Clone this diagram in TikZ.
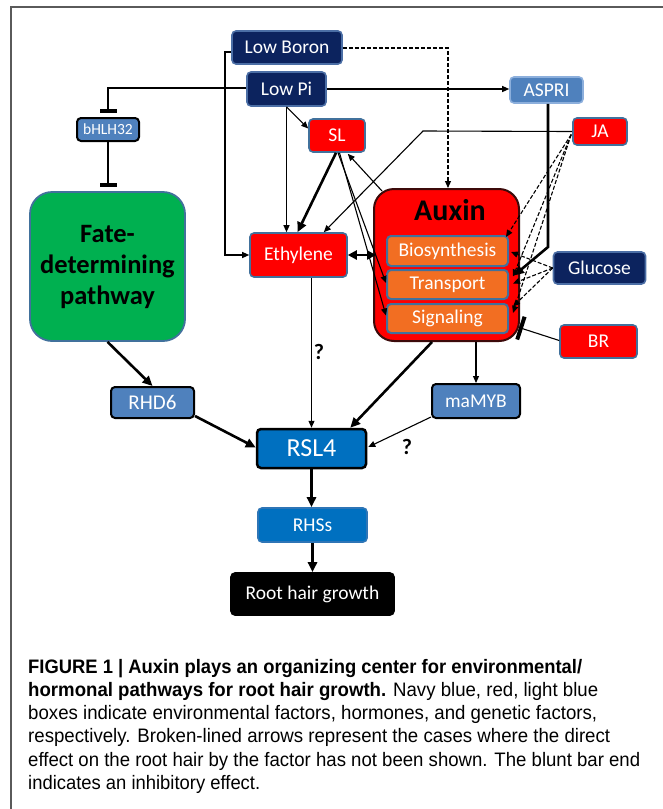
\documentclass[tikz,border=0pt]{standalone}
\usepackage{fontspec}
\usepackage{graphicx}
\setmainfont{Liberation Sans}
\newfontfamily\calfont{Carlito}
\usetikzlibrary{arrows.meta,calc}
\definecolor{navy}{RGB}{12,35,94}
\definecolor{navyedge}{RGB}{75,110,165}
\definecolor{hred}{RGB}{255,0,0}
\definecolor{hedge}{RGB}{65,113,156}
\definecolor{lblue}{RGB}{79,129,189}
\definecolor{lbedge}{RGB}{140,175,220}
\definecolor{orng}{RGB}{242,110,34}
\definecolor{fgreen}{RGB}{0,176,80}
\definecolor{rblue}{RGB}{0,112,192}
\definecolor{rhsedge}{RGB}{46,117,182}
\definecolor{framegray}{RGB}{90,90,90}
\definecolor{auxedge}{RGB}{60,10,10}
\tikzset{
 base/.style={rounded corners=4pt, inner sep=0pt, align=center, text=white, font=\calfont\fontsize{19.5}{23}\selectfont, line width=1.6pt},
 envbox/.style={base, fill=navy, draw=navyedge},
 hormbox/.style={base, fill=hred, draw=hedge},
 genbox/.style={base, fill=lblue, draw=black, line width=2pt},
 subbox/.style={base, fill=orng, draw=hedge, line width=2pt},
 thinline/.style={line width=1.1pt, draw=black},
 thinarrow/.style={thinline, -{Triangle[length=7pt,width=6pt]}},
 thickarrow/.style={line width=2.6pt, -{Triangle[length=10pt,width=9pt]}},
 dasharrow/.style={thinarrow, dash pattern=on 4pt off 2pt},
 bluntend/.style={thinline, -{Bar[width=#1,line width=4pt]}},
 qmark/.style={font=\calfont\bfseries\fontsize{22}{26}\selectfont, inner sep=0pt},
 capline/.style={anchor=base west, inner sep=0pt, font=\fontsize{19.5}{23.2}\selectfont},
}
\begin{document}
\begin{tikzpicture}[x=1pt,y=-1pt]
\useasboundingbox (0,0) rectangle (663,809);
\fill[white] (0,0) rectangle (663,809);
\draw[framegray, line width=1.2pt] (11,809) -- (11,7) -- (663,7);

% nodes
\node[envbox, minimum width=110pt, minimum height=33pt] (lowboron) at (287,47.5) {Low Boron};
\node[envbox, minimum width=79pt, minimum height=34pt] (lowpi) at (286.5,89) {Low Pi};
\node[base, fill=lblue, draw=lbedge, minimum width=73pt, minimum height=26pt] (aspri) at (546.5,90) {ASPRI};
\node[genbox, minimum width=62pt, minimum height=23pt, font=\calfont\fontsize{15.5}{18}\selectfont] (bhlh) at (108,129.5) {bHLH32};
\node[hormbox, minimum width=56pt, minimum height=33pt] (sl) at (337,135.5) {SL};
\node[hormbox, minimum width=54pt, minimum height=27pt] (ja) at (600,131.5) {JA};
\node[hormbox, minimum width=97pt, minimum height=44pt] (ethylene) at (298.5,255) {Ethylene};
\node[rounded corners=20pt, fill=hred, draw=auxedge, line width=2pt, minimum width=145pt, minimum height=152pt, inner sep=0pt] (auxin) at (446.5,265) {};
\node[font=\calfont\bfseries\fontsize{30}{36}\selectfont, inner sep=0pt] (auxinlabel) at (450,210) {Auxin};
\node[subbox, minimum width=121pt, minimum height=30pt] (biosynthesis) at (447.5,251) {Biosynthesis};
\node[subbox, minimum width=121pt, minimum height=29pt] (transport) at (447.5,284.5) {Transport};
\node[subbox, minimum width=121pt, minimum height=29pt] (signaling) at (447.5,318.5) {Signaling};
\node[envbox, minimum width=92pt, minimum height=32pt] (glucose) at (599.5,268) {Glucose};
\node[hormbox, minimum width=77pt, minimum height=33pt] (br) at (598.5,341.5) {BR};
\node[base, fill=fgreen, draw=hedge, line width=1.8pt, rounded corners=22pt, text=black, minimum width=155pt, minimum height=149pt, font=\calfont\bfseries\fontsize{26.5}{31}\selectfont] (fate) at (107.5,266.5) {Fate-\\determining\\pathway};
\node[genbox, minimum width=83pt, minimum height=31pt, font=\calfont\fontsize{21}{25}\selectfont] (rhd6) at (152.5,402.5) {RHD6};
\node[genbox, minimum width=88pt, minimum height=34pt] (mamyb) at (476,401) {maMYB};
\node[base, fill=rblue, draw=black, line width=2.5pt, minimum width=109pt, minimum height=39pt, font=\calfont\fontsize{26}{30}\selectfont] (rsl4) at (311.5,448.5) {RSL4};
\node[base, fill=rblue, draw=rhsedge, minimum width=109pt, minimum height=34pt] (rhss) at (312.5,525) {RHSs};
\node[base, fill=black, draw=black, minimum width=163pt, minimum height=42pt] (root) at (312.5,594) {Root hair growth};

% Low Boron
\coordinate (lbturn) at (225,52);
\draw[thinarrow] ($(lowboron.west)+(0,4.5)$) -- (lbturn) |- (ethylene.west);
\coordinate (lbdash) at (448,48);
\draw[dasharrow] ($(lowboron.east)+(0,0.5)$) -- (lbdash) -- (lbdash |- auxin.north);

% Low Pi
\coordinate (lpturn) at (108,88);
\draw[bluntend=17pt, shorten >=4pt] ($(lowpi.west)+(0,-1)$) -- (lpturn) -- (bhlh.north);
\draw[thinarrow] (lowpi.east) -- (lowpi.east -| aspri.west);
\draw[thinarrow] (lowpi.south) -- ($(sl.west)+(0,-7)$);
\draw[thinarrow] (lowpi.south) -- (lowpi.south |- ethylene.north);

% bHLH32
\draw[bluntend=17pt, shorten >=4pt] (bhlh.south) -- (bhlh.south |- fate.north);

% SL
\draw[thickarrow] ($(sl.south)+(-1,0)$) -- ($(ethylene.north)+(-1,0)$);
\draw[thinarrow] ($(sl.south)+(1,0)$) -- ($(transport.west)+(0,-1.5)$);
\draw[thinarrow] ($(sl.south)+(2.5,0)$) -- ($(signaling.west)+(0,-3)$);
\draw[thinarrow] ($(auxin.north west)+(9,3)$) -- ($(sl.south east)+(-18,1)$);

% JA
\coordinate (jaturn) at (423,131);
\draw[thinarrow] (ja.west) -- (jaturn) -- ($(ethylene.north east)+(-24,0)$);
\draw[dasharrow] ($(ja.west)+(-1,3)$) -- ($(biosynthesis.north east)+(-3,2)$);
\draw[dasharrow] ($(ja.west)+(-1,3)$) -- ($(transport.east)+(4,-8)$);
\draw[dasharrow] ($(ja.west)+(-1,3)$) -- ($(signaling.east)+(4,-5.5)$);

% Glucose
\draw[dasharrow] (glucose.west) -- ($(biosynthesis.east)+(2,1)$);
\draw[dasharrow] (glucose.west) -- ($(transport.east)+(4,-1)$);
\draw[dasharrow] (glucose.west) -- ($(signaling.east)+(4,-12)$);

% ASPRI
\coordinate (asturn) at (548,247);
\draw[thickarrow] (aspri.south -| asturn) -- (asturn) -- ($(transport.east)+(5,-9)$);

% BR
\draw[bluntend=24pt] ($(br.west)+(0,-1)$) -- ($(signaling.east)+(10,9)$);

% Ethylene <-> Auxin
\draw[line width=2.6pt, {Triangle[length=9pt,width=9pt]}-{Triangle[length=9pt,width=9pt]}] (ethylene.east) -- ($(ethylene.east -| auxin.west)+(3,0)$);

% to RSL4
\draw[thinarrow] (ethylene.south -| rsl4.north) -- (rsl4.north);
\node[qmark] (q1) at (319,352) {?};
\draw[thickarrow] ($(auxin.south)+(-14.5,0)$) -- ($(rsl4.north east)+(-17,0)$);
\draw[thinarrow] (auxin.south -| mamyb.north) -- (mamyb.north);
\draw[thinarrow] ($(mamyb.south west)+(0,-2)$) -- ($(rsl4.east)+(1,-1.5)$);
\node[qmark] (q2) at (407,447) {?};
\draw[thickarrow] (fate.south) -- (rhd6.north);
\draw[thickarrow] ($(rhd6.south east)+(0,-3)$) -- ($(rsl4.west)+(0,-1)$);
\draw[thickarrow] (rsl4.south) -- (rsl4.south |- rhss.north);
\draw[thickarrow] (rhss.south) -- (rhss.south |- root.north);

% caption
\node[capline] (cap1) at (28,673.3) {\resizebox{554pt}{\height}{\bfseries FIGURE 1 | Auxin plays an organizing center for environmental/}};
\node[capline] (cap2) at (28,696.5) {\resizebox{570pt}{\height}{{\bfseries hormonal pathways for root hair growth.} Navy blue, red, light blue}};
\node[capline] (cap3) at (28,719.7) {\resizebox{569pt}{\height}{boxes indicate environmental factors, hormones, and genetic factors,}};
\node[capline] (cap4) at (28,742.9) {\resizebox{582pt}{\height}{respectively. Broken-lined arrows represent the cases where the direct}};
\node[capline] (cap5) at (28,766.1) {\resizebox{612pt}{\height}{effect on the root hair by the factor has not been shown. The blunt bar end}};
\node[capline] (cap6) at (28,789.3) {\resizebox{232pt}{\height}{indicates an inhibitory effect.}};
\end{tikzpicture}
\end{document}
